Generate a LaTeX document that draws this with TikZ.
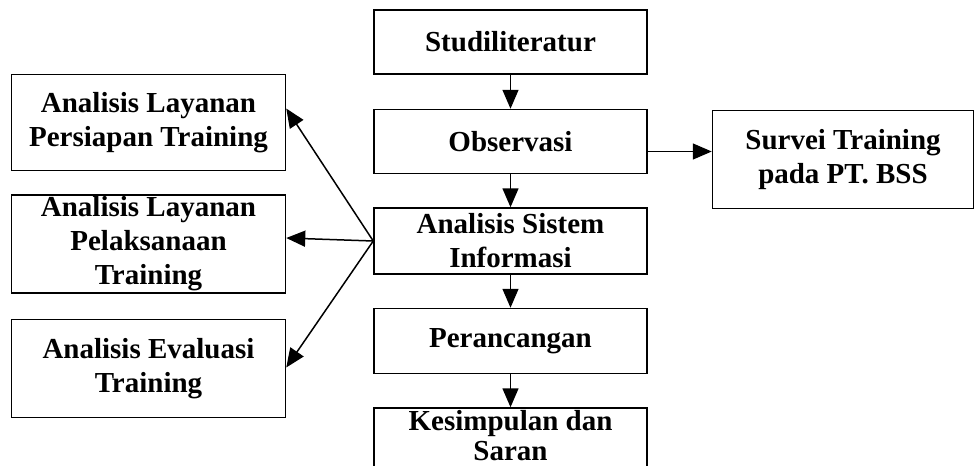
\documentclass[tikz,border=0pt]{standalone}
\usepackage{fontspec}
\setmainfont{Liberation Serif}
\usepackage{tikz}
\usetikzlibrary{shapes.geometric, arrows.meta}
\tikzset{
	box/.style={rectangle, minimum width=273pt, minimum height=64pt, inner sep=0pt, text centered, align=center, draw=black, line width=1.5pt, font=\bfseries\fontsize{29}{34}\selectfont},
	sidebox/.style={box, minimum width=274pt, minimum height=98pt},
	arrow/.style={line width=1.5pt,-{Triangle[length=19pt,width=16pt]}}
}
\usetikzlibrary{positioning}

\begin{document}
\begin{tikzpicture}[x=1pt, y=1pt, node distance=33pt]
		\useasboundingbox (0,0) rectangle (975,-466);
		
		% Nodes
		\node (studi) [box] at (510.5,-42) {Studiliteratur};
		\node (obs) [box, below=34pt of studi] {Observasi};
		\node (asi) [box, minimum height=66pt, below=of obs] {Analisis Sistem\\Informasi};
		\node (peran) [box, minimum height=65pt, below=of asi] {Perancangan};
		\node (kes) [box, minimum height=66pt, below=of peran, text depth=12pt, font=\bfseries\fontsize{29}{30}\selectfont] {Kesimpulan dan\\Saran};
		\node (survei) [sidebox, minimum width=261pt, right=64pt of obs, yshift=-18pt] {Survei Training\\pada PT. BSS};
		\node (alpl) [sidebox, left=87pt of asi, yshift=-3pt] {Analisis Layanan\\Pelaksanaan\\Training};
		\node (alp) [sidebox, minimum height=96pt, above=23pt of alpl] {Analisis Layanan\\Persiapan Training};
		\node (aet) [sidebox, below=25pt of alpl] {Analisis Evaluasi\\Training};
		
		% Arrows
		\draw [arrow] (studi) -- (obs);
		\draw [arrow] (obs) -- (asi);
		\draw [arrow] (asi) -- (peran);
		\draw [arrow] (peran) -- (kes);
		\draw [arrow] ([yshift=-10pt]obs.east) -- ([yshift=8pt]survei.west);
		\draw [arrow] (asi.west) -- ([yshift=14pt]alp.east);
		\draw [arrow] (asi.west) -- ([yshift=6pt]alpl.east);
		\draw [arrow] (asi.west) -- ([yshift=1pt]aet.east);
		
	\end{tikzpicture}
\end{document}
